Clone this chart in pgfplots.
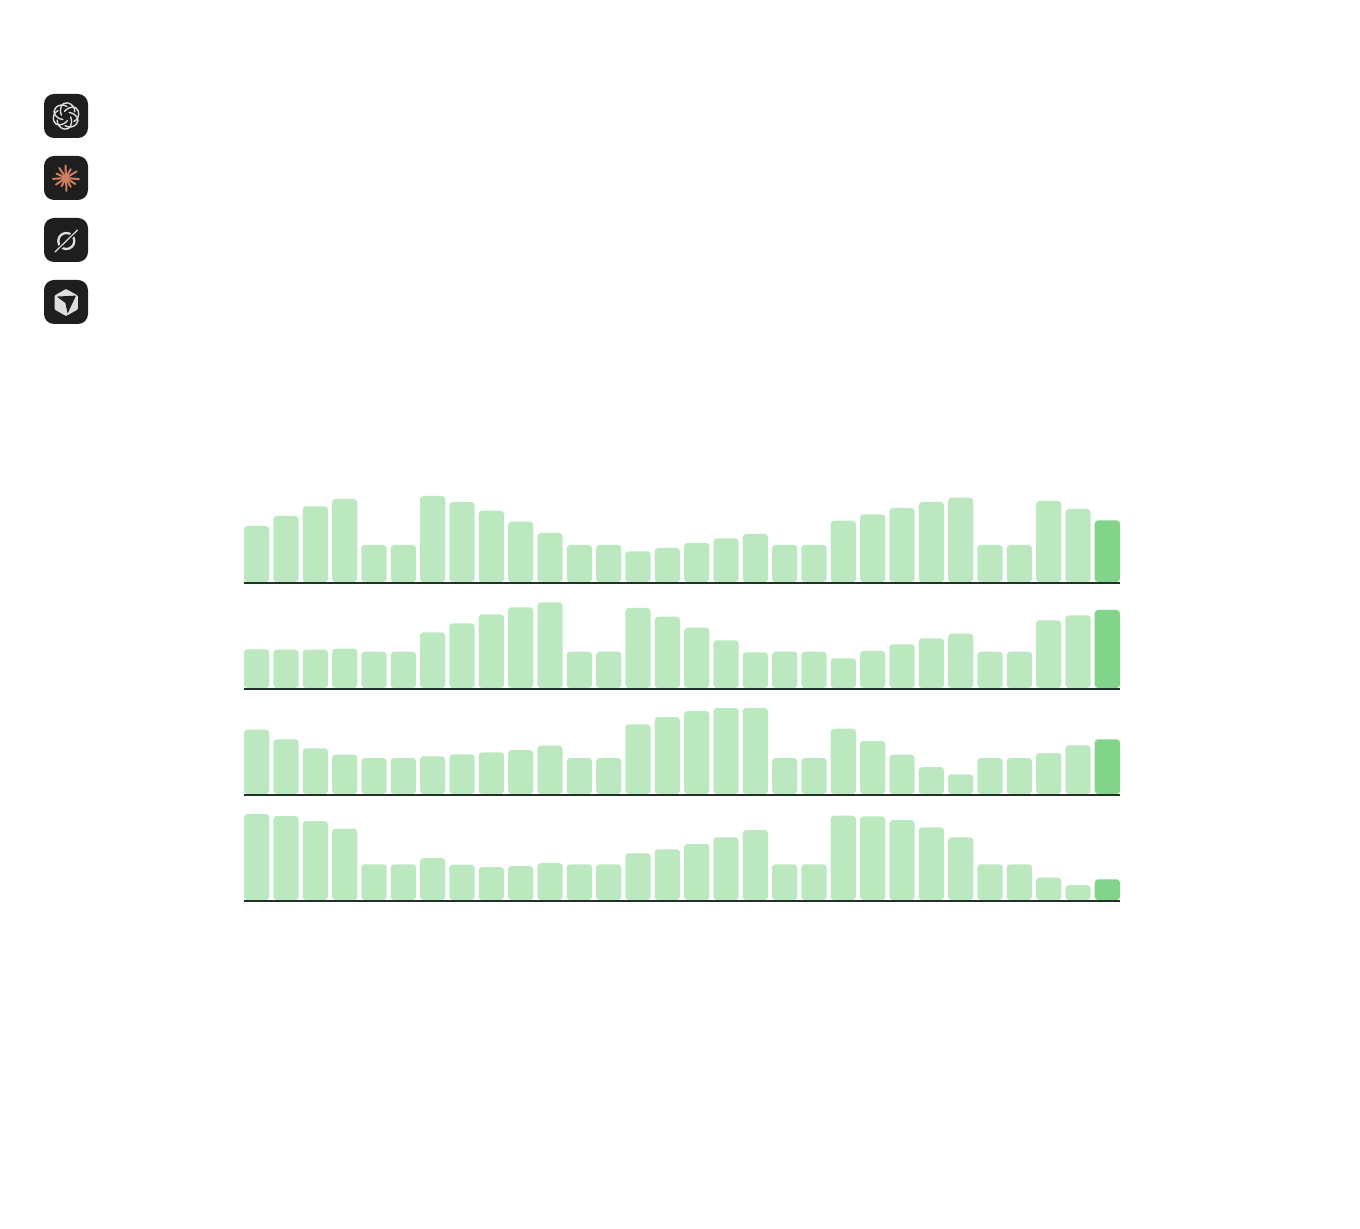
\documentclass[border=0pt]{standalone}
\usepackage{pgfplots}
\pgfplotsset{compat=1.18}
\definecolor{barlight}{HTML}{BBE8BF}
\definecolor{barstrong}{HTML}{82D48B}
\definecolor{baseln}{HTML}{22302A}
\definecolor{icobg}{HTML}{1E1E1E}
\definecolor{icolight}{HTML}{DEDEDE}
\definecolor{claude}{HTML}{CF7F5F}
\pgfplotsset{
  rowaxis/.style={
    scale only axis, width=438pt, height=50pt,
    xmin=-0.4318, xmax=29.4318, ymin=0, ymax=100,
    anchor=south west, clip=false,
    ybar, /pgf/bar shift=0pt, bar width=12.667pt,
    hide y axis, axis x line*=bottom, xtick=\empty, ytick=\empty,
    axis on top=true,
    axis line style={draw=baseln, line width=0.85pt, yshift=-0.42pt},
  },
  light/.style={fill=barlight, draw=none, rounded corners=1.7pt},
  strong/.style={fill=barstrong, draw=none, rounded corners=1.7pt},
}
\begin{document}
\begin{tikzpicture}
\path[use as bounding box, fill=white] (0,0) rectangle (680pt,614pt);

\begin{axis}[rowaxis, at={(122pt,323pt)}]
\addplot[light] coordinates {(0,56)(1,66)(2,75.7)(3,83)(4,37)(5,37)(6,86)(7,80)(8,71.3)(9,60.3)(10,49)(11,37)(12,37)(13,30.7)(14,34)(15,39)(16,43.7)(17,48)(18,37)(19,37)(20,61.3)(21,67.7)(22,74)(23,80)(24,84.3)(25,37)(26,37)(27,81)(28,73)};
\addplot[strong] coordinates {(29,61.7)};
\end{axis}

\begin{axis}[rowaxis, at={(122pt,270pt)}]
\addplot[light] coordinates {(0,38.7)(1,38.3)(2,38.3)(3,39.3)(4,36.3)(5,36.3)(6,55.7)(7,64.7)(8,73.7)(9,80.7)(10,85.7)(11,36.3)(12,36.3)(13,80)(14,71.3)(15,60.3)(16,47.7)(17,35.7)(18,36.3)(19,36.3)(20,29.7)(21,37)(22,43.7)(23,49.7)(24,54.3)(25,36.3)(26,36.3)(27,67.7)(28,72.7)};
\addplot[strong] coordinates {(29,78)};
\end{axis}

\begin{axis}[rowaxis, at={(122pt,217pt)}]
\addplot[light] coordinates {(0,64.3)(1,54.7)(2,45.7)(3,39.3)(4,36)(5,36)(6,37.7)(7,39.7)(8,41.7)(9,44)(10,48.3)(11,36)(12,36)(13,69.7)(14,77)(15,83)(16,86)(17,86)(18,36)(19,36)(20,65.3)(21,53)(22,39.3)(23,27)(24,19.7)(25,36)(26,36)(27,41)(28,48.7)};
\addplot[strong] coordinates {(29,54.7)};
\end{axis}

\begin{axis}[rowaxis, at={(122pt,164pt)}]
\addplot[light] coordinates {(0,86)(1,84)(2,79)(3,71.3)(4,35.7)(5,35.7)(6,42)(7,35.3)(8,33)(9,34)(10,37)(11,35.7)(12,35.7)(13,46.7)(14,50.7)(15,56)(16,62.7)(17,70)(18,35.7)(19,35.7)(20,84.3)(21,83.7)(22,80)(23,72.7)(24,62.7)(25,35.7)(26,35.7)(27,22.3)(28,15)};
\addplot[strong] coordinates {(29,20.7)};
\end{axis}

% Icons, drawn in reference pixels (y downwards)
\begin{scope}[x=0.5pt, y=-0.5pt, shift={(0pt,614pt)}]
  \foreach \t in {94,156,218,280}
    \fill[icobg, rounded corners=5pt] (44,\t) rectangle (88,\t+44);

  % knot
  \foreach \a in {0,60,120,180,240,300}
    \draw[icolight, line width=0.7pt, line cap=round, rotate around={\a:(66,116)}, shift={(66,116)}]
      (-1.5,-4.5) .. controls (3,-10) and (10,-11) .. (12.2,-5) .. controls (13.5,-1) and (12,3.5) .. (8,5.5);

  % burst
  \foreach \a/\r in {5/13,33/11,62/10,88/13,118/9.5,147/12,176/13,205/10.5,236/12,268/12.5,298/10,328/12.5}
    \draw[claude, line width=1pt, line cap=round]
      (66,178) -- ++(\a:\r);

  % ring and slash
  \draw[icolight, line width=1.15pt] (66.3,241) circle [radius=8];
  \draw[icobg, line width=2pt] (56,251.5) -- (77,230.5);
  \draw[icolight, line width=0.6pt, line cap=round] (55,252) -- (77.5,230);

  % cube
  \fill[icolight, rounded corners=0.5pt] (66,289) -- (77.8,295.5) -- (77.8,309.5) -- (66,316) -- (54.6,309.5) -- (54.6,295.5) -- cycle;
  \fill[icobg] (56.8,296.6) -- (76,295.6) -- (67.6,313.5) -- (65.4,303) -- cycle;
\end{scope}
\end{tikzpicture}
\end{document}
